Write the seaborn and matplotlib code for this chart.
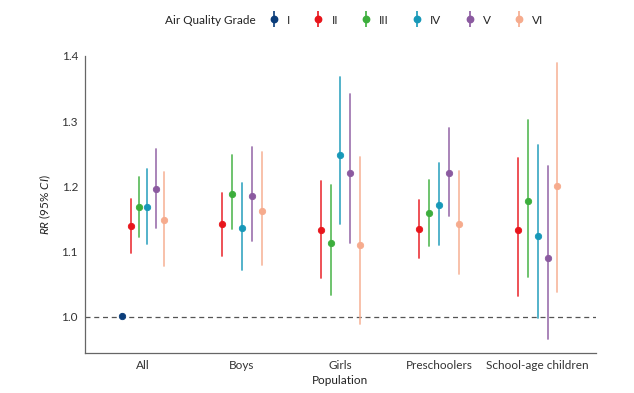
import pandas as pd
import matplotlib
matplotlib.use("Agg")
import matplotlib.pyplot as plt
from matplotlib.lines import Line2D
import seaborn as sns

# datos
poblaciones = ["All", "Boys", "Girls", "Preschoolers", "School-age children"]
grados = ["I", "II", "III", "IV", "V", "VI"]
colores = ["#0b3d7a", "#e8151b", "#3cae3c", "#1798b8", "#8b5aa0", "#f6ab8d"]

# filas: poblacion, columnas: grado (None = sin dato)
rr = [
    [1.002, 1.139, 1.169, 1.169, 1.196, 1.148],
    [None, 1.142, 1.189, 1.137, 1.186, 1.162],
    [None, 1.133, 1.114, 1.248, 1.221, 1.110],
    [None, 1.135, 1.159, 1.171, 1.220, 1.143],
    [None, 1.133, 1.177, 1.124, 1.091, 1.200],
]
ic_inf = [
    [1.000, 1.098, 1.122, 1.112, 1.137, 1.078],
    [None, 1.094, 1.134, 1.072, 1.117, 1.079],
    [None, 1.059, 1.033, 1.143, 1.113, 0.990],
    [None, 1.091, 1.108, 1.110, 1.155, 1.066],
    [None, 1.032, 1.062, 0.998, 0.967, 1.038],
]
ic_sup = [
    [1.004, 1.180, 1.215, 1.226, 1.258, 1.222],
    [None, 1.190, 1.248, 1.205, 1.260, 1.253],
    [None, 1.209, 1.202, 1.367, 1.341, 1.245],
    [None, 1.179, 1.210, 1.236, 1.290, 1.224],
    [None, 1.244, 1.302, 1.263, 1.232, 1.389],
]

# tabla larga: tres filas por punto (inf, rr, sup) -> mediana + rango
filas = []
for i, pob in enumerate(poblaciones):
    for j, g in enumerate(grados):
        if rr[i][j] is None:
            continue
        for v in (ic_inf[i][j], rr[i][j], ic_sup[i][j]):
            filas.append({"Population": pob, "grade": g, "RR": v})
df = pd.DataFrame(filas)

sns.set_style("white")
plt.rcParams["font.family"] = ["Lato", "DejaVu Sans"]
plt.rcParams["mathtext.fontset"] = "custom"
plt.rcParams["mathtext.it"] = "Lato:italic"
plt.rcParams["mathtext.rm"] = "Lato"

paleta = dict(zip(grados, colores))
fig = plt.figure(figsize=(6.34, 3.93), dpi=100)
ax = fig.add_axes([0.134, 0.102, 0.806, 0.756])

estilo = dict(x="Population", y="RR", hue="grade", order=poblaciones,
              palette=paleta, estimator="median", errorbar=("pi", 100),
              linestyle="none", markersize=4.6, markeredgewidth=0.6,
              err_kws={"linewidth": 1.3, "alpha": 0.8}, legend=False, ax=ax)

# "All" tiene seis grados, el resto cinco
sns.pointplot(data=df[df["Population"] == "All"], hue_order=grados, dodge=0.42, **estilo)
sns.pointplot(data=df[df["Population"] != "All"], hue_order=grados[1:], dodge=0.40, **estilo)

ax.axhline(1.0, color="#555555", linestyle=(0, (4, 3)), linewidth=0.9, zorder=0)
ax.set_xlim(-0.59, 4.59)
ax.set_ylim(0.945, 1.4)
ax.set_yticks([1.0, 1.1, 1.2, 1.3, 1.4])
ax.set_yticklabels(["1.0", "1.1", "1.2", "1.3", "1.4"])
ax.set_xlabel("Population", fontsize=8.5, color="#222222", labelpad=3)
ax.set_ylabel(r"$\it{RR}$ (95% $\it{CI}$)", fontsize=8.5, color="#222222", labelpad=6)
sns.despine(ax=ax)
for lado in ["left", "bottom"]:
    ax.spines[lado].set_color("#666666")
    ax.spines[lado].set_linewidth(0.9)
ax.tick_params(axis="both", length=3, width=0.8, color="#666666",
               labelsize=8.5, labelcolor="#333333", pad=2)

# leyenda arriba
fig.text(165 / 634, 1 - 20 / 393, "Air Quality Grade", fontsize=8.5,
         color="#222222", va="center", ha="left")
handles = [(Line2D([0], [0], marker="|", color=c, linestyle="none", markersize=11, markeredgewidth=1.2),
            Line2D([0], [0], marker="o", color=c, linestyle="none", markersize=4.6))
           for c in colores]
fig.legend(handles, grados, ncol=6, loc="center left", bbox_to_anchor=(268 / 634, 1 - 20 / 393),
           frameon=False, fontsize=8.5, handlelength=1.0, handletextpad=0.6,
           columnspacing=1.9, borderpad=0, borderaxespad=0)

plt.savefig("out.png", dpi=100)
